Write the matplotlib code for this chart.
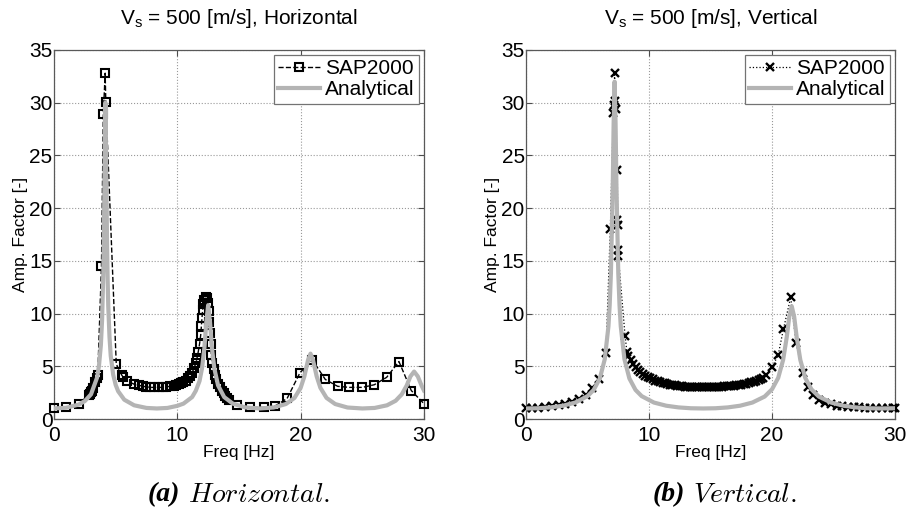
import matplotlib.pyplot as plt
import numpy as np

plt.rcParams['font.family'] = ['Liberation Sans', 'DejaVu Sans']
plt.rcParams['mathtext.default'] = 'regular'

# ---- (a) horizontal ----
sap_h_f = [0, 1, 2, 2.8, 2.9, 3.0, 3.1, 3.2, 3.35, 3.45, 3.55, 3.85, 4.0, 4.15, 4.2,
           5.05, 5.5, 5.6, 5.95, 6.5, 6.9, 7.2, 7.5, 7.8, 8.1, 8.5, 8.8,
           9.1, 9.4, 9.7, 9.9, 10.1, 10.3, 10.5, 10.7, 10.9, 11.05, 11.2, 11.35, 11.5,
           11.6, 11.7, 11.8, 11.9, 11.95, 12.0, 12.05, 12.1, 12.2, 12.3, 12.4, 12.5,
           12.55, 12.6, 12.65, 12.7, 12.75, 12.85, 12.95, 13.05, 13.15, 13.3, 13.45,
           13.6, 13.75, 13.9, 14.05, 14.2, 14.8, 15.9, 17.0, 17.95, 18.9, 19.95,
           20.95, 22.0, 23.0, 23.95, 25.0, 25.97, 26.97, 27.97, 28.97, 30.0]
sap_h_v = [1.0, 1.1, 1.4, 2.3, 2.4, 2.55, 2.7, 2.9, 3.5, 3.9, 4.2, 14.5, 28.9, 32.8, 30.1,
           5.2, 4.15, 4.0, 3.6, 3.3, 3.2, 3.1, 3.05, 3.0, 3.0, 3.0, 3.0,
           3.05, 3.1, 3.15, 3.2, 3.3, 3.4, 3.5, 3.65, 3.85, 4.1, 4.4, 4.8, 5.3,
           5.8, 6.4, 7.1, 8.0, 8.8, 9.6, 10.3, 10.9, 11.3, 11.6, 11.5, 11.0,
           10.2, 9.2, 8.2, 7.1, 6.1, 5.3, 4.7, 4.2, 3.8, 3.35, 3.0,
           2.7, 2.45, 2.2, 2.0, 1.8, 1.3, 1.1, 1.1, 1.25, 1.95, 4.4,
           5.6, 3.75, 3.1, 3.0, 3.0, 3.25, 3.95, 5.45, 2.7, 1.45]

ana_h_f = [0, 1, 2, 2.5, 3, 3.5, 3.65, 3.8, 3.9, 4.0, 4.05, 4.1, 4.17, 4.25, 4.3, 4.35,
           4.4, 4.5, 4.6, 4.8, 5.0, 5.2, 5.7, 6.5, 7.5, 8.34, 9.2, 10.0, 10.5, 11.2,
           11.5, 11.8, 12.0, 12.2, 12.35, 12.5, 12.65, 12.8, 13.0, 13.3, 13.8, 14.5,
           15.5, 16.7, 17.8, 18.8, 19.5, 20.0, 20.3, 20.6, 20.8, 21.0, 21.3, 21.6,
           22.1, 22.8, 23.8, 25.0, 26.0, 27.0, 27.7, 28.2, 28.6, 28.9, 29.2, 29.5,
           29.8, 30.0]
ana_h_v = [1.0, 1.07, 1.37, 1.70, 2.34, 3.95, 5.07, 7.0, 9.4, 14.0, 17.9, 23.5, 30.0, 22.0,
           16.8, 13.2, 10.7, 7.8, 6.0, 4.2, 3.24, 2.64, 1.83, 1.30, 1.05, 1.0, 1.05,
           1.25, 1.46, 2.08, 2.68, 3.6, 4.8, 6.8, 9.2, 10.8, 9.2, 6.8, 4.8, 3.2, 2.08,
           1.46, 1.1, 1.0, 1.09, 1.42, 2.0, 2.96, 4.04, 5.6, 6.2, 5.6, 4.04, 2.96,
           2.0, 1.42, 1.09, 1.0, 1.05, 1.3, 1.73, 2.34, 3.18, 4.04, 4.5, 4.04, 3.18, 2.7]

# ---- (b) vertical ----
sap_v_f = [0, 0.5, 1.0, 1.55, 2.1, 2.65, 3.2, 3.75, 4.3, 4.85, 5.4, 5.95, 6.5,
           6.85, 7.1, 7.13, 7.2, 7.27, 7.3, 7.38, 7.42, 7.45, 7.48, 7.5, 8.05, 8.2,
           8.3, 8.5, 8.7, 8.9, 9.1, 9.3, 9.5, 9.7, 9.9, 10.1, 10.3, 10.5, 10.7, 10.9,
           11.1, 11.3, 11.5, 11.7, 11.9, 12.1, 12.3, 12.5, 12.7, 12.9, 13.1, 13.3,
           13.5, 13.7, 13.9, 14.1, 14.3, 14.5, 14.7, 14.9, 15.1, 15.3, 15.5, 15.7,
           15.9, 16.1, 16.3, 16.5, 16.7, 16.9, 17.1, 17.3, 17.5, 17.7, 17.9, 18.1,
           18.3, 18.5, 18.7, 18.9, 19.1, 19.3,
           19.5, 20.0, 20.5, 20.92, 21.52, 21.95, 22.5, 22.95, 23.36, 23.85, 24.3,
           24.77, 25.26, 25.7, 26.2, 26.65, 27.1, 27.55, 28.0, 28.45, 28.9, 29.4,
           29.85, 30.0]
sap_v_v = [1.05, 1.05, 1.08, 1.12, 1.2, 1.3, 1.45, 1.65, 1.9, 2.3, 2.9, 3.8, 6.3,
           18.0, 29.0, 29.8, 32.8, 30.2, 29.4, 18.9, 23.6, 18.4, 16.0, 15.5, 7.9, 6.4,
           6.0, 5.6, 5.25, 4.95, 4.65, 4.45, 4.25, 4.1, 3.95, 3.85, 3.75, 3.65, 3.57, 3.5,
           3.43, 3.37, 3.32, 3.27, 3.23, 3.19, 3.16, 3.13, 3.1, 3.08, 3.06, 3.05,
           3.04, 3.03, 3.02, 3.02, 3.02, 3.02, 3.02, 3.03, 3.03, 3.04, 3.05, 3.06,
           3.07, 3.09, 3.1, 3.12, 3.14, 3.17, 3.2, 3.23, 3.27, 3.31, 3.36, 3.41,
           3.47, 3.54, 3.62, 3.7, 3.8, 3.92,
           4.2, 4.9, 6.07, 8.5, 11.55, 7.24, 4.33, 3.07, 2.28, 1.8, 1.55,
           1.39, 1.26, 1.2, 1.15, 1.12, 1.1, 1.08, 1.06, 1.05, 1.04, 1.03,
           1.02, 1.05]

ana_v_f = [0, 1, 2, 3, 4, 5, 5.5, 6.0, 6.4, 6.7, 6.8, 6.9, 7.05, 7.12, 7.2, 7.28, 7.35,
           7.5, 7.6, 7.7, 8.0, 8.4, 8.9, 9.4, 10.4, 11.4, 12.4, 13.4, 14.4, 15.4, 16.4,
           17.4, 18.4, 19.4, 20.0, 20.5, 20.9, 21.2, 21.4, 21.6, 21.8, 22.0, 22.3,
           22.7, 23.2, 23.8, 24.8, 25.8, 26.8, 27.8, 28.8, 30.0]
ana_v_v = [1.0, 1.02, 1.10, 1.26, 1.56, 2.17, 2.76, 3.85, 5.67, 8.8, 10.8, 13.8, 22.0,
           28.0, 32.0, 28.0, 22.0, 13.8, 10.8, 8.8, 5.67, 3.85, 2.76, 2.17, 1.56, 1.26,
           1.10, 1.02, 1.0, 1.02, 1.10, 1.26, 1.56, 2.13, 2.82, 3.9, 5.6, 7.8, 9.7,
           10.7, 9.7, 7.8, 5.6, 3.9, 2.82, 2.13, 1.56, 1.26, 1.10, 1.02, 1.0, 1.02]

gray = '#b4b4b4'
fs_big = 15
fs_lab = 12.5

fig = plt.figure(figsize=(9.12, 5.18), dpi=100)
ax1 = fig.add_axes([0.0592, 0.1911, 0.4057, 0.7124])
ax2 = fig.add_axes([0.5768, 0.1911, 0.4046, 0.7124])

ax1.plot(sap_h_f, sap_h_v, color='black', linestyle='--', linewidth=1.0,
         marker='s', markersize=5.5, markerfacecolor='none', markeredgewidth=1.5,
         label='SAP2000', clip_on=False, zorder=3)
ax1.plot(ana_h_f, ana_h_v, color=gray, linewidth=3, label='Analytical', zorder=4)

ax2.plot(sap_v_f, sap_v_v, color='black', linestyle=':', linewidth=0.9,
         marker='x', markersize=6, markeredgewidth=1.7,
         label='SAP2000', clip_on=False, zorder=3)
ax2.plot(ana_v_f, ana_v_v, color=gray, linewidth=3, label='Analytical', zorder=4)

titles = ['V$_s$ = 500 [m/s], Horizontal', 'V$_s$ = 500 [m/s], Vertical']
for ax, t in zip([ax1, ax2], titles):
    ax.set_xlim(0, 30)
    ax.set_ylim(0, 35)
    ax.set_xticks([0, 10, 20, 30])
    ax.set_yticks([0, 5, 10, 15, 20, 25, 30, 35])
    ax.grid(True, linestyle=':', color='0.6', linewidth=0.8)
    ax.set_axisbelow(True)
    ax.tick_params(direction='in', top=True, right=True, length=4,
                   labelsize=fs_big, color='0.3')
    ax.tick_params(axis='x', pad=5)
    ax.tick_params(axis='y', pad=1)
    for s in ax.spines.values():
        s.set_color('0.35')
        s.set_linewidth(0.9)
    ax.set_title(t, fontsize=fs_big, pad=19)
    ax.set_xlabel('Freq [Hz]', fontsize=fs_lab, labelpad=0)
    ax.set_ylabel('Amp. Factor [-]', fontsize=fs_lab, labelpad=1)
    leg = ax.legend(loc='upper right', fontsize=fs_big, fancybox=False,
                    borderaxespad=0.25, handlelength=2.0, handletextpad=0.25,
                    borderpad=0.2, labelspacing=0.1, framealpha=1)
    leg.get_frame().set_edgecolor('0.45')
    leg.get_frame().set_linewidth(0.9)

fig.text(0.197, 0.045, '(a)', fontsize=20, family='Liberation Serif',
         weight='bold', style='italic', ha='right', va='center')
fig.text(0.206, 0.045, r'$\mathit{Horizontal.}$', fontsize=20, math_fontfamily='cm',
         ha='left', va='center')
fig.text(0.751, 0.045, '(b)', fontsize=20, family='Liberation Serif',
         weight='bold', style='italic', ha='right', va='center')
fig.text(0.760, 0.045, r'$\mathit{Vertical.}$', fontsize=20, math_fontfamily='cm',
         ha='left', va='center')

fig.savefig('out.png', dpi=100)
